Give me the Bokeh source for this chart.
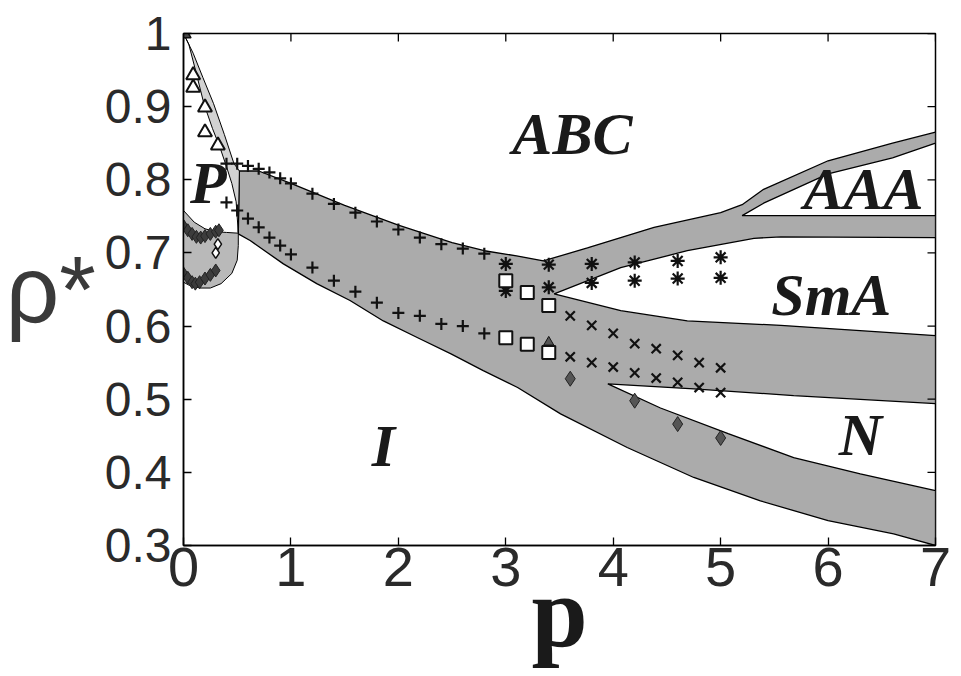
from bokeh.plotting import figure
from bokeh.models import Range1d, Label, FixedTicker
from bokeh.embed import file_html
from bokeh.resources import INLINE

# ---- axis ticks ----
x_ticks = [0, 1, 2, 3, 4, 5, 6, 7]
y_ticks = [0.3, 0.4, 0.5, 0.6, 0.7, 0.8, 0.9, 1.0]

# ---- coexistence band boundaries (p, rho*) ----
band_top_p = [0.52, 0.70, 1.00, 1.50, 2.00, 2.50, 2.80, 3.10, 3.35]
band_top_rho = [0.812, 0.812, 0.795, 0.765, 0.738, 0.714, 0.703, 0.696, 0.689]

abc_lower_p = [3.76, 4.38, 5.00, 5.20, 5.40, 6.00, 6.60, 7.00]
abc_lower_rho = [0.707, 0.735, 0.755, 0.766, 0.787, 0.826, 0.850, 0.865]

aaa_upper_p = [7.00, 6.60, 6.00, 5.40, 5.20]
aaa_upper_rho = [0.850, 0.830, 0.808, 0.768, 0.751]

aaa_lower_p = [7.00]
aaa_lower_rho = [0.751]

sma_upper_p = [7.00, 5.56, 5.31, 4.69, 4.07, 3.45]
sma_upper_rho = [0.721, 0.722, 0.720, 0.703, 0.680, 0.644]

sma_lower_p = [4.07, 4.69, 5.56, 7.00]
sma_lower_rho = [0.621, 0.607, 0.601, 0.587]

n_upper_p = [7.00, 5.68, 4.75, 3.95]
n_upper_rho = [0.494, 0.505, 0.514, 0.521]

n_lower_p = [4.44, 5.07, 5.68, 6.30, 7.00]
n_lower_rho = [0.488, 0.453, 0.420, 0.398, 0.375]

i_upper_p = [7.00, 6.61, 6.00, 5.37, 4.75, 4.13, 3.51, 3.11, 2.79, 2.49,
             2.18, 1.86, 1.55, 1.24, 0.93, 0.62, 0.51]
i_upper_rho = [0.300, 0.316, 0.334, 0.361, 0.393, 0.434, 0.480, 0.516, 0.539, 0.562,
               0.584, 0.607, 0.635, 0.658, 0.685, 0.717, 0.726]

# P / ABC band near p = 0
pband_left_p = [0.00, 0.05, 0.12, 0.19, 0.27, 0.34, 0.40, 0.45, 0.49, 0.51]
pband_left_rho = [1.000, 0.985, 0.945, 0.904, 0.870, 0.844, 0.818, 0.795, 0.770, 0.728]
pband_right_p = [0.52, 0.47, 0.38, 0.28, 0.18, 0.09, 0.00]
pband_right_rho = [0.812, 0.822, 0.862, 0.904, 0.940, 0.973, 1.000]

# P / I band near p = 0
uband_upper_p = [0.00, 0.10, 0.20, 0.30, 0.40, 0.51]
uband_upper_rho = [0.758, 0.742, 0.733, 0.729, 0.728, 0.727]
uband_lower_p = [0.51, 0.50, 0.45, 0.35, 0.25, 0.15, 0.05, 0.00]
uband_lower_rho = [0.710, 0.690, 0.672, 0.658, 0.652, 0.652, 0.656, 0.660]

# ---- simulation points ----
tri_p = [0.09, 0.09, 0.20, 0.20, 0.32]
tri_rho = [0.943, 0.926, 0.899, 0.865, 0.847]
tri_top_p = [0.0]
tri_top_rho = [1.0]

plus_p = [0.4, 0.5, 0.6, 0.7, 0.8, 0.9, 1.0, 1.2, 1.4, 1.6, 1.8, 2.0, 2.2, 2.4, 2.6, 2.8]
plus_upper_rho = [0.822, 0.822, 0.819, 0.815, 0.810, 0.802, 0.795, 0.781, 0.767, 0.755,
                  0.743, 0.732, 0.721, 0.712, 0.706, 0.699]
plus_lower_rho = [0.769, 0.758, 0.747, 0.735, 0.721, 0.710, 0.698, 0.680, 0.662, 0.647,
                  0.632, 0.618, 0.614, 0.603, 0.600, 0.590]

ast_p = [3.0, 3.4, 3.8, 4.2, 4.6, 5.0]
ast_upper_rho = [0.685, 0.684, 0.685, 0.687, 0.689, 0.694]
ast_lower_rho = [0.648, 0.653, 0.659, 0.662, 0.665, 0.666]

sq_p = [3.0, 3.2, 3.4]
sq_upper_rho = [0.662, 0.646, 0.628]
sq_lower_rho = [0.584, 0.575, 0.564]

x_p = [3.6, 3.8, 4.0, 4.2, 4.4, 4.6, 4.8, 5.0]
x_upper_rho = [0.614, 0.601, 0.590, 0.576, 0.569, 0.560, 0.550, 0.543]
x_lower_rho = [0.558, 0.550, 0.544, 0.536, 0.529, 0.523, 0.516, 0.509]

dia_p = [3.6, 4.2, 4.6, 5.0]
dia_rho = [0.528, 0.498, 0.466, 0.447]

chev_upper_p = [0.00, 0.04, 0.08, 0.12, 0.16, 0.20, 0.25, 0.30, 0.33]
chev_upper_rho = [0.737, 0.731, 0.726, 0.722, 0.721, 0.723, 0.726, 0.729, 0.731]
chev_lower_p = [0.00, 0.04, 0.08, 0.11, 0.15, 0.20, 0.25, 0.30]
chev_lower_rho = [0.672, 0.666, 0.660, 0.658, 0.660, 0.665, 0.670, 0.676]

open_dia_p = [0.30, 0.32]
open_dia_rho = [0.700, 0.712]

cap_p = [3.4]
cap_rho = [0.578]

# ---- phase labels ----
phase_names = ["ABC", "P", "AAA", "SmA", "N", "I"]
phase_p = [3.62, 0.23, 6.33, 6.03, 6.30, 1.86]
phase_rho = [0.863, 0.796, 0.787, 0.642, 0.451, 0.436]

X0, X1, Y0, Y1 = 0, 7, 0.3, 1.0
p = figure(width=961, height=676, x_range=Range1d(X0, X1), y_range=Range1d(Y0, Y1),
           output_backend="svg", toolbar_location=None,
           min_border_left=183, min_border_right=26, min_border_top=33, min_border_bottom=131)
p.xgrid.grid_line_color = None
p.ygrid.grid_line_color = None
p.outline_line_color = "black"
p.outline_line_width = 1.5
p.background_fill_color = "white"
p.border_fill_color = "white"

# one outline enclosing all the grey two-phase regions right of p = 0.5
env_p = (band_top_p + abc_lower_p + aaa_upper_p + aaa_lower_p + sma_upper_p
         + sma_lower_p + n_upper_p + n_lower_p + i_upper_p)
env_rho = (band_top_rho + abc_lower_rho + aaa_upper_rho + aaa_lower_rho + sma_upper_rho
           + sma_lower_rho + n_upper_rho + n_lower_rho + i_upper_rho)
p.patch(env_p, env_rho, fill_color="#ababab", line_color="black", line_width=1.3)

p.patch(pband_left_p + pband_right_p, pband_left_rho + pband_right_rho,
        fill_color="#d2d2d2", line_color="black", line_width=1.0)
p.patch(uband_upper_p + uband_lower_p, uband_upper_rho + uband_lower_rho,
        fill_color="#b9b9b9", line_color="black", line_width=1.0)

ink = "#111111"
p.scatter(chev_upper_p, chev_upper_rho, marker="diamond", size=13, fill_color="#3c3c3c", line_color="#222222")
p.scatter(chev_lower_p, chev_lower_rho, marker="diamond", size=13, fill_color="#3c3c3c", line_color="#222222")
p.scatter(open_dia_p, open_dia_rho, marker="diamond", size=11, fill_color="white", line_color=ink, line_width=1.5)

p.scatter(tri_p, tri_rho, marker="triangle", size=14, fill_color="white", line_color=ink, line_width=2)
p.scatter(tri_top_p, tri_top_rho, marker="triangle", size=15, fill_color="#444444", line_color=ink, line_width=1.5)

p.scatter(plus_p, plus_upper_rho, marker="cross", size=12, line_color=ink, line_width=2.2)
p.scatter(plus_p, plus_lower_rho, marker="cross", size=12, line_color=ink, line_width=2.2)

p.scatter(ast_p, ast_upper_rho, marker="asterisk", size=14, line_color=ink, line_width=2.2)
p.scatter(ast_p, ast_lower_rho, marker="asterisk", size=14, line_color=ink, line_width=2.2)

p.scatter(sq_p, sq_upper_rho, marker="square", size=13, fill_color="white", line_color=ink, line_width=2)
p.scatter(sq_p, sq_lower_rho, marker="square", size=13, fill_color="white", line_color=ink, line_width=2)
p.scatter(cap_p, cap_rho, marker="triangle", size=10, fill_color="#555555", line_color=ink)

p.scatter(x_p, x_upper_rho, marker="x", size=13, line_color=ink, line_width=2.2)
p.scatter(x_p, x_lower_rho, marker="x", size=13, line_color=ink, line_width=2.2)

p.scatter(dia_p, dia_rho, marker="diamond", size=15, fill_color="#555555", line_color="#222222")

for name, px_, py_ in zip(phase_names, phase_p, phase_rho):
    p.add_layout(Label(x=px_, y=py_, text=name, text_align="center", text_baseline="middle",
                       text_font="Liberation Serif", text_font_style="bold italic",
                       text_font_size="60px", text_color="#1a1a1a"))

# bottom / left axes: ticks pointing inwards
for ax in (p.xaxis[0], p.yaxis[0]):
    ax.major_tick_in = 8
    ax.major_tick_out = 0
    ax.minor_tick_line_color = None
    ax.axis_line_width = 1.5
    ax.major_tick_line_width = 1.3
    ax.major_label_text_font = "Liberation Sans"
    ax.major_label_text_color = "#2a2a2a"
p.xaxis[0].ticker = FixedTicker(ticks=x_ticks)
p.yaxis[0].ticker = FixedTicker(ticks=y_ticks)
p.yaxis[0].major_label_overrides = {1.0: "1"}
p.xaxis[0].major_label_text_font_size = "56px"
p.yaxis[0].major_label_text_font_size = "48px"
p.xaxis[0].major_label_standoff = 2
p.yaxis[0].major_label_standoff = 12

# axis titles: a large bold serif p tucked up against the tick labels,
# and a horizontal rho* beside the density ticks
p.xaxis[0].axis_label = "p"
p.xaxis[0].axis_label_text_font = "Liberation Serif"
p.xaxis[0].axis_label_text_font_style = "bold"
p.xaxis[0].axis_label_text_font_size = "101px"
p.xaxis[0].axis_label_text_color = "#1a1a1a"
p.xaxis[0].axis_label_standoff = -33

p.yaxis[0].axis_label = "ρ*"
p.yaxis[0].axis_label_text_font = "Liberation Sans"
p.yaxis[0].axis_label_text_font_style = "normal"
p.yaxis[0].axis_label_text_font_size = "94px"
p.yaxis[0].axis_label_text_color = "#3a3a3a"
p.yaxis[0].axis_label_standoff = 6
try:
    p.yaxis[0].axis_label_orientation = "horizontal"
except AttributeError:
    pass

# matching inward ticks on the top and right edges of the box
tick_dx = 8 / 107.4
tick_dy = 8 / 731.0
p.segment(x0=x_ticks, y0=[Y1] * len(x_ticks), x1=x_ticks, y1=[Y1 - tick_dy] * len(x_ticks),
          line_color="black", line_width=1.3)
p.segment(x0=[X1] * len(y_ticks), y0=y_ticks, x1=[X1 - tick_dx] * len(y_ticks), y1=y_ticks,
          line_color="black", line_width=1.3)

open("out.html", "w").write(file_html(p, INLINE))
